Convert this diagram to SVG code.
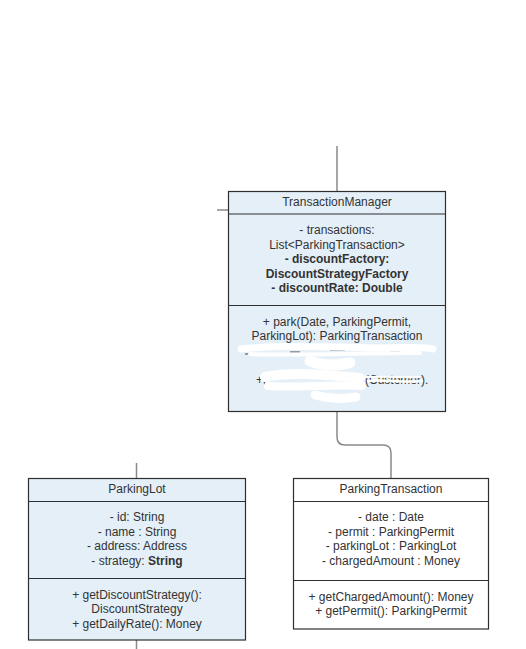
<svg xmlns="http://www.w3.org/2000/svg" width="526" height="649" viewBox="0 0 526 649">
<style>
.box{stroke:#2f2f2f;stroke-width:1.2}
.blue{fill:#e4eff8}
.white{fill:#ffffff}
.div{stroke:#2f2f2f;stroke-width:1.2;fill:none}
.conn{stroke:#8a8a8a;stroke-width:1.5;fill:none}
text{font-family:"Liberation Sans",Arial,sans-serif;font-size:12px;fill:#333;text-anchor:middle}
.b{font-weight:bold}
.scr{stroke:#ffffff;fill:none;stroke-linecap:round;stroke-linejoin:round}
</style>
<rect width="526" height="649" fill="#ffffff"/>
<g id="connectors">
<path class="conn" d="M337 146 V191"/>
<path class="conn" d="M217 210 H228"/>
<path class="conn" d="M337 411 V437 Q337 445 345 445 H383 Q391 445 391 453 V478"/>
<path class="conn" d="M136.5 463 V478"/>
<path class="conn" d="M136.5 640 V649"/>
</g>
<g id="TransactionManager">
<rect class="box blue" x="228.5" y="191.5" width="217" height="220"/>
<path class="div" d="M228.5 214 H445.5 M228.5 305.5 H445.5"/>
<text x="337" y="206">TransactionManager</text>
<text x="337" y="234">- transactions:</text>
<text x="337" y="248.5">List&lt;ParkingTransaction&gt;</text>
<text x="337" y="263" class="b">- discountFactory:</text>
<text x="337" y="277.5" class="b">DiscountStrategyFactory</text>
<text x="337" y="292" class="b">- discountRate: Double</text>
<text x="337" y="325.5">+ park(Date, ParkingPermit,</text>
<text x="337" y="340">ParkingLot): ParkingTransaction</text>
<text x="256" y="383.5" style="text-anchor:start">+(</text>
<text x="365" y="383.5" style="text-anchor:start">(Customer).</text>
<path d="M245 354 H249 M290 352 H300 M330 350 H345 M390 352 H400 M332 368 H345 M350 368 L354 366 M322 397 H330 M352 399 L356 395" stroke="#444" stroke-width="1" fill="none"/>
<path class="scr" stroke-width="7" d="M241 349 C280 345 330 347 380 348 C405 348 420 346 433 349"/>
<path class="scr" stroke-width="4" d="M250 354 C300 356 350 353 420 353"/>
<path class="scr" stroke-width="11" d="M310 361 C325 367 340 365 350 363"/>
<path class="scr" stroke-width="10" d="M265 377 C290 372 320 374 360 378"/>
<path class="scr" stroke-width="8" d="M268 386 C300 388 330 384 362 386"/>
<path class="scr" stroke-width="2.5" d="M368 381 C385 379 400 383 422 381"/>
<path class="scr" stroke-width="2" d="M366 377 C390 376 405 378 420 377"/>
<path class="scr" stroke-width="9" d="M315 395 C330 399 345 399 356 397"/>
</g>
<g id="ParkingLot">
<rect class="box blue" x="28.5" y="478.5" width="217" height="161.5"/>
<path class="div" d="M28.5 501.5 H245.5 M28.5 578.5 H245.5"/>
<text x="137" y="492.5">ParkingLot</text>
<text x="137" y="521">- id: String</text>
<text x="137" y="535.5">- name : String</text>
<text x="137" y="550">- address: Address</text>
<text x="137" y="564.5">- strategy: <tspan class="b">String</tspan></text>
<text x="137" y="598.5">+ getDiscountStrategy():</text>
<text x="137" y="613">DiscountStrategy</text>
<text x="137" y="627.5">+ getDailyRate(): Money</text>
</g>
<g id="ParkingTransaction">
<rect class="box white" x="293.5" y="478.5" width="195" height="150.5"/>
<path class="div" d="M293.5 501.5 H488.5 M293.5 580.5 H488.5"/>
<text x="391" y="492.5">ParkingTransaction</text>
<text x="391" y="521">- date : Date</text>
<text x="391" y="535.5">- permit : ParkingPermit</text>
<text x="391" y="550">- parkingLot : ParkingLot</text>
<text x="391" y="564.5">- chargedAmount : Money</text>
<text x="391" y="600.5">+ getChargedAmount(): Money</text>
<text x="391" y="614.5">+ getPermit(): ParkingPermit</text>
</g>
</svg>
